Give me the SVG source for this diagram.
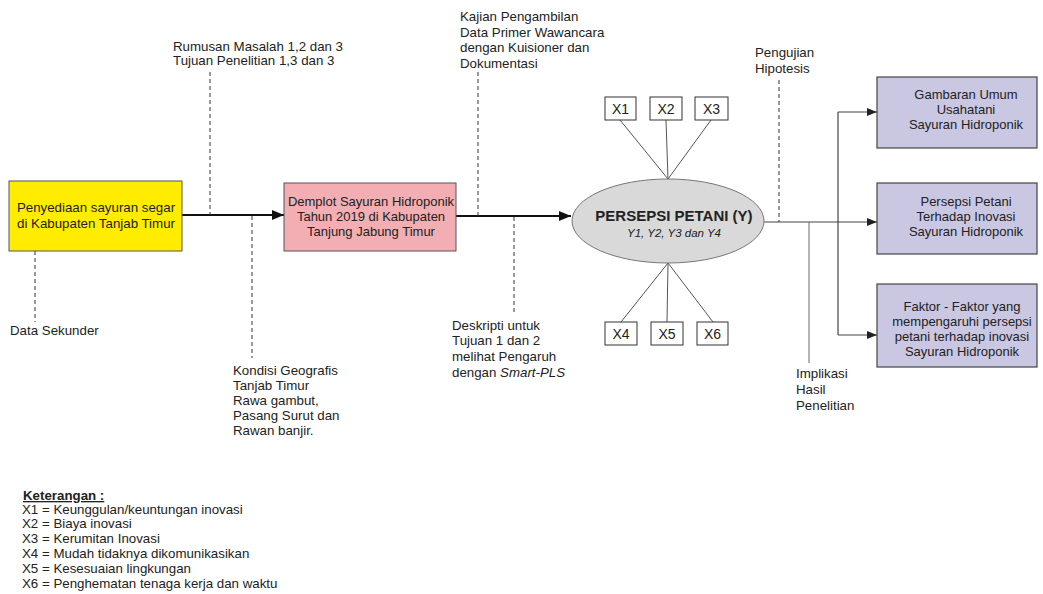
<svg xmlns="http://www.w3.org/2000/svg" width="1043" height="594" viewBox="0 0 1043 594">
<style>
text{font-family:"Liberation Sans",Arial,sans-serif;fill:#222;}
.t13{font-size:13.3px;}
.t12{font-size:13px;}
.t14{font-size:14px;}
.c{text-anchor:middle;}
.dash{stroke:#333;stroke-width:1;stroke-dasharray:4,3;fill:none;}
.main{stroke:#111;stroke-width:2;fill:none;}
.thin{stroke:#444;stroke-width:1.2;fill:none;}
.xl{stroke:#555;stroke-width:1;fill:none;}
.xbox{fill:#fff;stroke:#333;stroke-width:1;}
.pbox{fill:#cac7e3;stroke:#444;stroke-width:1.2;}
</style>
<defs>
<marker id="ah" markerWidth="12" markerHeight="10" refX="12" refY="5" orient="auto" markerUnits="userSpaceOnUse">
<path d="M0,0 L12,5 L0,10 Z" fill="#111"/>
</marker>
<marker id="ahs" markerWidth="10" markerHeight="8" refX="10" refY="4" orient="auto" markerUnits="userSpaceOnUse">
<path d="M0,0 L10,4 L0,8 Z" fill="#222"/>
</marker>
</defs>
<rect width="1043" height="594" fill="#fff"/>

<g id="connectors">
<line class="main" x1="182" y1="215" x2="284" y2="215" marker-end="url(#ah)"/>
<line class="main" x1="456" y1="216" x2="571" y2="216" marker-end="url(#ah)"/>
<line class="xl" x1="620" y1="120" x2="668" y2="179"/>
<line class="xl" x1="666" y1="120" x2="668" y2="179"/>
<line class="xl" x1="711" y1="120" x2="668" y2="179"/>
<line class="xl" x1="668" y1="263" x2="621" y2="322"/>
<line class="xl" x1="668" y1="263" x2="667" y2="322"/>
<line class="xl" x1="668" y1="263" x2="713" y2="322"/>
<line class="thin" x1="764" y1="222" x2="877" y2="222" marker-end="url(#ahs)"/>
<line class="thin" x1="838" y1="112" x2="838" y2="335"/>
<line class="thin" x1="838" y1="112" x2="877" y2="112" marker-end="url(#ahs)"/>
<line class="thin" x1="838" y1="335" x2="877" y2="335" marker-end="url(#ahs)"/>
<line stroke="#666" stroke-width="1" x1="809" y1="222" x2="809" y2="363"/>
<line class="dash" x1="35" y1="251" x2="35" y2="322"/>
<line class="dash" x1="210" y1="72" x2="210" y2="215"/>
<line class="dash" x1="252" y1="216" x2="252" y2="358"/>
<line class="dash" x1="478" y1="72" x2="478" y2="216"/>
<line class="dash" x1="514" y1="217" x2="514" y2="315"/>
<line class="dash" x1="779" y1="80" x2="779" y2="222"/>
</g>

<g id="node-yellow">
<rect x="9" y="181" width="173" height="70" fill="#ffec00" stroke="#555" stroke-width="1"/>
<text class="t13 c" x="96" y="212">Penyediaan sayuran segar</text>
<text class="t13 c" x="96" y="228">di Kabupaten Tanjab Timur</text>
</g>

<g id="node-pink">
<rect x="284" y="183" width="172" height="68" fill="#f2aeb3" stroke="#555" stroke-width="1"/>
<text class="t12 c" x="371" y="206">Demplot Sayuran Hidroponik</text>
<text class="t12 c" x="371" y="221">Tahun 2019 di Kabupaten</text>
<text class="t12 c" x="371" y="236">Tanjung Jabung Timur</text>
</g>

<g id="node-ellipse">
<ellipse cx="668" cy="221" rx="96" ry="42" fill="#d9d9d9" stroke="#777" stroke-width="1"/>
<text class="c" x="674" y="221" style="font-size:15px;font-weight:bold;">PERSEPSI PETANI (Y)</text>
<text class="c" x="674" y="237" style="font-size:11.5px;font-style:italic;">Y1, Y2, Y3 dan Y4</text>
</g>

<g id="node-x1"><rect class="xbox" x="605" y="97" width="31" height="23"/><text class="t14 c" x="620.5" y="114">X1</text></g>
<g id="node-x2"><rect class="xbox" x="650" y="97" width="32" height="23"/><text class="t14 c" x="666" y="114">X2</text></g>
<g id="node-x3"><rect class="xbox" x="695" y="97" width="33" height="23"/><text class="t14 c" x="711.5" y="114">X3</text></g>
<g id="node-x4"><rect class="xbox" x="605" y="322" width="32" height="23"/><text class="t14 c" x="621" y="339">X4</text></g>
<g id="node-x5"><rect class="xbox" x="651" y="322" width="32" height="23"/><text class="t14 c" x="667" y="339">X5</text></g>
<g id="node-x6"><rect class="xbox" x="697" y="322" width="31" height="23"/><text class="t14 c" x="712.5" y="339">X6</text></g>

<g id="node-out1">
<rect class="pbox" x="877" y="77" width="160" height="71"/>
<text class="t12 c" x="966" y="99">Gambaran Umum</text>
<text class="t12 c" x="966" y="114">Usahatani</text>
<text class="t12 c" x="966" y="129">Sayuran Hidroponik</text>
</g>
<g id="node-out2">
<rect class="pbox" x="877" y="183" width="160" height="71"/>
<text class="t12 c" x="966" y="206">Persepsi Petani</text>
<text class="t12 c" x="966" y="221">Terhadap Inovasi</text>
<text class="t12 c" x="966" y="236">Sayuran Hidroponik</text>
</g>
<g id="node-out3">
<rect class="pbox" x="877" y="284" width="160" height="83"/>
<text class="t12 c" x="962" y="311">Faktor - Faktor yang</text>
<text class="t12 c" x="962" y="326">mempengaruhi persepsi</text>
<text class="t12 c" x="962" y="341">petani terhadap inovasi</text>
<text class="t12 c" x="962" y="356">Sayuran Hidroponik</text>
</g>

<g id="labels">
<text class="t13" x="173" y="51">Rumusan Masalah 1,2 dan 3</text>
<text class="t13" x="173" y="65">Tujuan Penelitian 1,3 dan 3</text>
<text class="t13" x="460" y="21">Kajian Pengambilan</text>
<text class="t13" x="460" y="37">Data Primer Wawancara</text>
<text class="t13" x="460" y="52">dengan Kuisioner dan</text>
<text class="t13" x="460" y="68">Dokumentasi</text>
<text class="t13" x="755" y="57">Pengujian</text>
<text class="t13" x="755" y="73">Hipotesis</text>
<text class="t13" x="10" y="335">Data Sekunder</text>
<text class="t13" x="233" y="375">Kondisi Geografis</text>
<text class="t13" x="233" y="390">Tanjab Timur</text>
<text class="t13" x="233" y="405">Rawa gambut,</text>
<text class="t13" x="233" y="420">Pasang Surut dan</text>
<text class="t13" x="233" y="435">Rawan banjir.</text>
<text class="t13" x="452" y="330">Deskripti untuk</text>
<text class="t13" x="452" y="345">Tujuan 1 dan 2</text>
<text class="t13" x="452" y="361">melihat Pengaruh</text>
<text class="t13" x="452" y="377">dengan <tspan font-style="italic">Smart-PLS</tspan></text>
<text class="t13" x="796" y="378">Implikasi</text>
<text class="t13" x="796" y="394">Hasil</text>
<text class="t13" x="796" y="410">Penelitian</text>
</g>

<g id="legend">
<text class="t13" x="23" y="500" font-weight="bold" text-decoration="underline">Keterangan :</text>
<text class="t13" x="22" y="514">X1 = Keunggulan/keuntungan inovasi</text>
<text class="t13" x="22" y="528">X2 = Biaya inovasi</text>
<text class="t13" x="22" y="543">X3 = Kerumitan Inovasi</text>
<text class="t13" x="22" y="558">X4 = Mudah tidaknya dikomunikasikan</text>
<text class="t13" x="22" y="573">X5 = Kesesuaian lingkungan</text>
<text class="t13" x="22" y="588">X6 = Penghematan tenaga kerja dan waktu</text>
</g>
</svg>
